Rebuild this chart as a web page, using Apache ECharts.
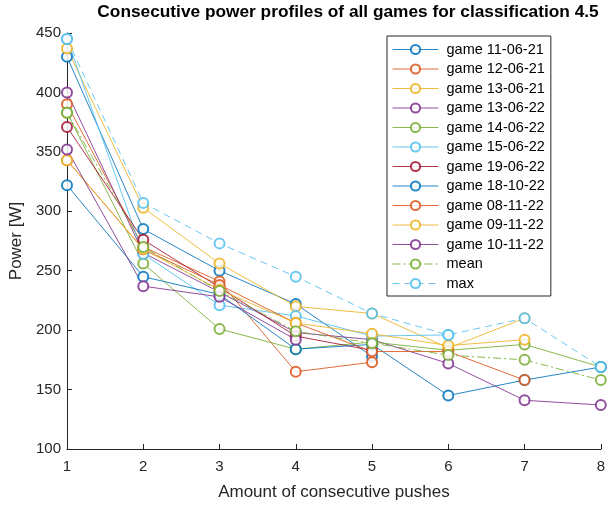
<!DOCTYPE html>
<html><head><meta charset="utf-8">
<script src="https://cdn.jsdelivr.net/npm/echarts@6/dist/echarts.min.js"></script>
<style>html,body{margin:0;padding:0;background:#fff}#c{width:608px;height:506px}</style>
</head><body><div id="c"></div>
<script>
const pushes = [1, 2, 3, 4, 5, 6, 7, 8];
const yTicks = [100, 150, 200, 250, 300, 350, 400, 450];
const gameNames = ['game 11-06-21','game 12-06-21','game 13-06-21','game 13-06-22','game 14-06-22','game 15-06-22','game 19-06-22','game 18-10-22','game 08-11-22','game 09-11-22','game 10-11-22'];
const g110621 = [430, 285, 250, 222, 178];
const g120621 = [390, 270, 241, 165, 173];
const g130621 = [437, 303, 256, 220, 214, 185, 210];
const g130622 = [400, 265, 232, 198, 192, 172, 141, 137];
const g140622 = [383, 256, 201, 184, 190, 183, 188, 169];
const g150622 = [445, 264, 221, 212, 195, 196];
const g190622 = [371, 276, 236, 195, 183];
const g181022 = [322, 245, 230, 184, 188, 145, 158, 169];
const g081122 = [343, 268, 238, 206, 182, 182, 158];
const g091122 = [343, 268, 234, 206, 197, 187, 192];
const g101122 = [352, 237, 228, 192];
const meanVals = [383, 270, 233, 199, 189, 179, 175, 158];
const maxVals  = [445, 307, 273, 245, 214, 196, 210, 169];

const games = [g110621,g120621,g130621,g130622,g140622,g150622,g190622,g181022,g081122,g091122,g101122];
const palette = ['#0072BD','#D95319','#EDB120','#7E2F8E','#77AC30','#4DBEEE','#A2142F'];
const font = 'Liberation Sans, Arial, Helvetica, sans-serif';
const ink = '#262626';

function mk(name, vals, color, type){
  return {
    name: name, type: 'line', clip: false,
    data: vals.map((v,i)=>[pushes[i], v]),
    symbol: 'emptyCircle', symbolSize: 10,
    itemStyle: {color: color, borderColor: color, borderWidth: 1, opacity: 0.85},
    lineStyle: {color: color, width: 1, type: type || 'solid', opacity: 0.85},
    emphasis: {disabled: true}
  };
}
const series = games.map((g,i)=>mk(gameNames[i], g, palette[i % 7]));
series.push(mk('mean', meanVals, '#77AC30', [8,3,2,3]));
series.push(mk('max', maxVals, '#4DBEEE', [7,5]));

const chart = echarts.init(document.getElementById('c'), null, {renderer:'canvas'});
chart.setOption({
  animation: false,
  color: palette,
  textStyle: {fontFamily: font},
  grid: {left: 67, right: 5, top: 33, bottom: 54},
  graphic: [{
    type: 'text', x: 348, y: 12,
    style: {text: 'Consecutive power profiles of all games for classification 4.5', font: 'bold 17.3px ' + font, fill: '#000', align: 'center', verticalAlign: 'middle'}
  }],
  xAxis: {
    type: 'value', min: 1, max: 8, interval: 1,
    name: 'Amount of consecutive pushes', nameLocation: 'middle', nameGap: 35,
    nameTextStyle: {fontSize: 17, color: ink, fontFamily: font},
    axisLine: {show: true, onZero: false, lineStyle: {color: ink, width: 1}},
    axisTick: {show: true, inside: true, length: 5, lineStyle: {color: ink}},
    axisLabel: {fontSize: 15, color: ink, margin: 10, fontFamily: font},
    splitLine: {show: false}
  },
  yAxis: {
    type: 'value', min: yTicks[0], max: yTicks[yTicks.length-1], interval: 50,
    name: 'Power [W]', nameLocation: 'middle', nameGap: 35, nameRotate: 90,
    nameTextStyle: {fontSize: 17, color: ink, fontFamily: font},
    axisLine: {show: true, lineStyle: {color: ink, width: 1}},
    axisTick: {show: true, inside: true, length: 5, lineStyle: {color: ink}},
    axisLabel: {fontSize: 15, color: ink, margin: 6, fontFamily: font},
    splitLine: {show: false}
  },
  legend: {
    orient: 'vertical', left: 387, top: 36,
    padding: [6, 6, 5, 5], itemGap: 4.5, itemWidth: 46, itemHeight: 11.5,
    borderColor: ink, borderWidth: 1, backgroundColor: '#fff',
    itemStyle: {borderWidth: 1},
    lineStyle: {width: 1},
    textStyle: {fontSize: 14.5, color: '#000', fontFamily: font, padding: [0,0,0,3]},
    data: series.map(s=>s.name)
  },
  series: series
});
</script></body></html>
